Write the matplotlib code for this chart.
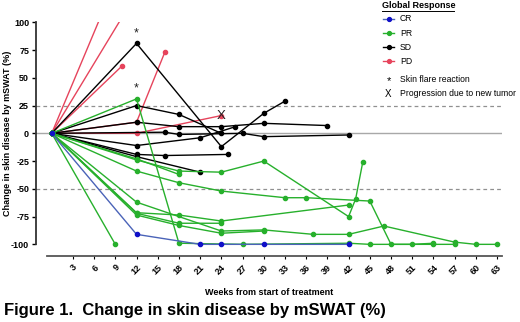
import matplotlib
matplotlib.use("Agg")
import matplotlib.pyplot as plt
from matplotlib.lines import Line2D
from matplotlib.transforms import ScaledTranslation

plt.rcParams['font.family'] = ['Liberation Sans', 'DejaVu Sans']

# -------------------------------
# Data (weeks, % change in mSWAT)
# -------------------------------
# CR
cr_weeks = [0, 12, 21, 24, 30, 42]
cr_vals = [0, -91, -100, -100, -100, -100]

# PR
pr_star_weeks = [0, 12, 18, 27, 42, 45, 54, 57]
pr_star_vals = [0, 31, -99, -100, -99, -100, -100, -100]
pr_h_weeks = [0, 12, 18, 24, 33, 36, 45, 48, 51, 54]
pr_h_vals = [0, -34, -44.5, -52, -58, -58, -61, -100, -100, -99]
pr_a_weeks = [0, 12, 24, 30, 37, 42, 47, 57, 60, 63]
pr_a_vals = [0, -62, -88, -87, -91, -91, -83.5, -98, -100, -100]
pr_v_weeks = [0, 12, 18, 24, 30, 42, 43, 44]
pr_v_vals = [0, -24, -34, -35, -25, -75, -59, -26]
pr_b_weeks = [0, 12, 18, 24, 42]
pr_b_vals = [0, -71.5, -73.6, -79, -64.6]
pr_c_weeks = [0, 12, 18, 24, 30]
pr_c_vals = [0, -73.6, -83, -90, -88]
pr_d_weeks = [0, 12, 18, 24]
pr_d_vals = [0, -72, -81, -81]
pr_e_weeks = [0, 12, 18]
pr_e_vals = [0, -23, -37]
pr_9_weeks = [0, 9]
pr_9_vals = [0, -100]

# SD
sd1_weeks = [0, 12, 24, 30, 33]
sd1_vals = [0, 81, -12, 18, 29]
sd2_weeks = [0, 12, 18, 24]
sd2_vals = [0, 25, 17, 0]
sd3_weeks = [0, 12, 18, 24, 30, 39]
sd3_vals = [0, 10, 6, 6, 9, 7]
sd4_weeks = [0, 12, 21, 26]
sd4_vals = [0, -11, -4, 6]
sd5_weeks = [0, 16, 18, 27, 30, 42]
sd5_vals = [0, 1, -1, 0, -3, -1.5]
sd6_weeks = [0, 12, 16, 25]
sd6_vals = [0, -19, -20, -19]
sd7_weeks = [0, 12, 21]
sd7_vals = [0, -21, -35]

# PD (two run off the top of the scale)
pd_off1_weeks = [0, 12]
pd_off1_vals = [0, 182]
pd_off2_weeks = [0, 12]
pd_off2_vals = [0, 126]
pd1_weeks = [0, 10]
pd1_vals = [0, 61]
pd2_weeks = [0, 12, 16]
pd2_vals = [0, 10, 73]
pd3_weeks = [0, 12, 24]
pd3_vals = [0, 0, 16]

# annotations
flare_weeks = [12, 12]
flare_vals = [81, 31]
new_tumor_week = 24
new_tumor_val = 16

x_ticks = list(range(3, 64, 3))
y_ticks = [-100, -75, -50, -25, 0, 25, 50, 75, 100]

# -------------------------------
# Colours
# -------------------------------
c_cr_line = '#4a63b8'
c_cr_mark = '#1010c8'
c_pr = '#27b02c'
c_sd = 'black'
c_pd = '#e6445c'

W, H = 520, 322
fig = plt.figure(figsize=(W / 100, H / 100), dpi=100)
ax = fig.add_axes([36 / W, 66 / H, (502 - 36) / W, (299.7 - 66) / H])


def draw(weeks, vals, color, mcolor=None, lw=1.0):
    ax.plot(weeks, vals, '-', color=color, lw=lw, marker='o', markersize=3.0,
            markerfacecolor=mcolor or color, markeredgecolor=mcolor or color,
            clip_on=True, zorder=3)


# reference lines
ax.axhline(0, color='#a8a8a8', lw=1.0, zorder=1)
ax.axhline(25, color='#909090', lw=0.9, ls=(0, (3, 2.5)), zorder=1)
ax.axhline(-50, color='#909090', lw=0.9, ls=(0, (3, 2.5)), zorder=1)

# PD
for w, v in [(pd_off1_weeks, pd_off1_vals), (pd_off2_weeks, pd_off2_vals)]:
    ax.plot(w, v, '-', color=c_pd, lw=1.0, zorder=2)
for w, v in [(pd1_weeks, pd1_vals), (pd2_weeks, pd2_vals), (pd3_weeks, pd3_vals)]:
    draw(w, v, c_pd)

# SD
for w, v in [(sd1_weeks, sd1_vals), (sd2_weeks, sd2_vals), (sd3_weeks, sd3_vals),
             (sd4_weeks, sd4_vals), (sd5_weeks, sd5_vals), (sd6_weeks, sd6_vals),
             (sd7_weeks, sd7_vals)]:
    draw(w, v, c_sd)

# PR
for w, v in [(pr_star_weeks, pr_star_vals), (pr_h_weeks, pr_h_vals),
             (pr_a_weeks, pr_a_vals), (pr_v_weeks, pr_v_vals),
             (pr_b_weeks, pr_b_vals), (pr_c_weeks, pr_c_vals),
             (pr_d_weeks, pr_d_vals), (pr_e_weeks, pr_e_vals),
             (pr_9_weeks, pr_9_vals)]:
    draw(w, v, c_pr)

# CR
draw(cr_weeks, cr_vals, c_cr_line, mcolor=c_cr_mark)

# skin flare stars / new tumour X
for w, v in zip(flare_weeks, flare_vals):
    ax.text(w, v + 4, '*', ha='center', va='bottom', fontsize=9, color='#222222')
ax.text(new_tumor_week, new_tumor_val, 'X', ha='center', va='center',
        fontsize=9.5, color='#222222')

# axes styling (GraphPad-like detached axes)
ax.set_xlim(-2.22, 63.7)
ax.set_ylim(-110.5, 100)
for s in ['top', 'right']:
    ax.spines[s].set_visible(False)
ax.spines['left'].set_bounds(-100, 100)
ax.spines['bottom'].set_bounds(-0.7, 63.7)
ax.spines['left'].set_linewidth(1.3)
ax.spines['bottom'].set_linewidth(1.3)
ax.spines['left'].set_color('#333333')
ax.spines['bottom'].set_color('#555555')

ax.set_yticks(y_ticks)
ax.set_yticklabels([str(t) for t in y_ticks], fontsize=6.5, fontweight='bold')
ax.set_xticks(x_ticks)
ax.set_xticklabels([str(t) for t in x_ticks], fontsize=6.5, fontweight='bold',
                   rotation=45, ha='right', rotation_mode='anchor')
shift = ScaledTranslation(-3 / 100, 0, fig.dpi_scale_trans)
for lab in ax.get_xticklabels():
    lab.set_transform(lab.get_transform() + shift)
ax.tick_params(axis='y', length=3, width=1, pad=2)
ax.tick_params(axis='x', length=2, width=0.8, pad=3)

ax.set_xlabel('Weeks from start of treatment', fontsize=6.5, fontweight='bold',
              labelpad=8)
fig.text(8 / W, 1 - 133 / H, 'Change in skin disease by mSWAT (%)', rotation=90,
         ha='center', va='center', fontsize=6.5, fontweight='bold')

# legend drawn by hand in figure pixels
def fx(x):
    return x / W


def fy(y):
    return 1 - y / H


fig.text(fx(382), fy(6), 'Global Response', ha='left', va='center',
         fontsize=6.5, fontweight='bold')
fig.add_artist(Line2D([fx(382), fx(454)], [fy(11), fy(11)], color='black', lw=0.7))

legend_items = [('CR', c_cr_line, c_cr_mark, 18.5), ('PR', c_pr, c_pr, 33),
                ('SD', c_sd, c_sd, 47), ('PD', c_pd, c_pd, 61)]
for label, lc, mc, yy in legend_items:
    fig.add_artist(Line2D([fx(383), fx(394)], [fy(yy), fy(yy)], color=lc, lw=1.0))
    fig.add_artist(Line2D([fx(388.5)], [fy(yy)], marker='o', markersize=2.8,
                          color=mc, lw=0))
    fig.text(fx(400), fy(yy), label, ha='left', va='center', fontsize=6.2)

fig.text(fx(388.5), fy(81), '*', ha='center', va='center', fontsize=8)
fig.text(fx(400), fy(80), 'Skin flare reaction', ha='left', va='center', fontsize=6.2)
fig.text(fx(388.5), fy(94), 'X', ha='center', va='center', fontsize=7)
fig.text(fx(400), fy(94), 'Progression due to new tumor', ha='left', va='center',
         fontsize=6.2)

# figure caption
fig.text(fx(4), fy(310), 'Figure 1.  Change in skin disease by mSWAT (%)',
         ha='left', va='center', fontsize=12, fontweight='bold')

fig.savefig('out.png', dpi=100)
